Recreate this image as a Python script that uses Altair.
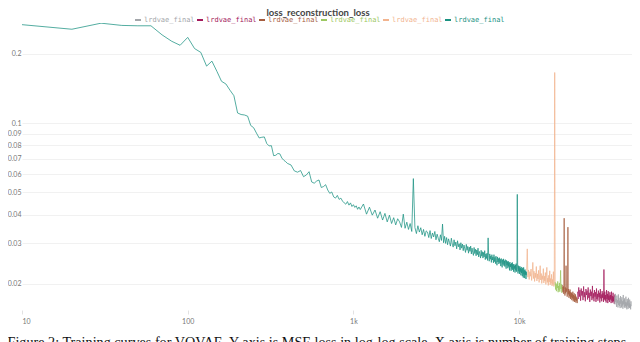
import altair as alt
import pandas as pd

# ---------------- data ----------------
RUN_IDS = ["run_gray", "run_magenta", "run_brown", "run_green", "run_peach", "run_teal"]
RUN_LABEL = "lrdvae_final"
RUN_COLORS = ["#a3a6aa", "#a3195b", "#a65d3f", "#9cc862", "#f2b48f", "#1b9282"]
DRAW_ORDER = ["run_teal", "run_peach", "run_green", "run_brown", "run_magenta", "run_gray"]

TITLE = "loss_reconstruction_loss"
CAPTION = ("Figure 2: Training curves for VQVAE. Y axis is MSE loss in log-log scale. "
           "X axis is number of training steps")

X_TICKS = [10, 100, 1000, 10000]
Y_TICKS = [0.02, 0.03, 0.04, 0.05, 0.06, 0.07, 0.08, 0.09, 0.1, 0.2]

teal_steps = list(range(10, 401, 10)) + list(range(420, 1101, 20)) + list(range(1150, 11101, 50))
teal_loss = [
    # 10 .. 400 every 10
    0.268, 0.256, 0.272, 0.266, 0.265, 0.265, 0.242, 0.227, 0.218, 0.236,
    0.211, 0.203, 0.177, 0.186, 0.168, 0.152, 0.148, 0.139, 0.1316, 0.1107,
    0.109, 0.1085, 0.1072, 0.0977, 0.0955, 0.0905, 0.0862, 0.0868, 0.0871, 0.0815,
    0.0796, 0.0798, 0.0722, 0.0725, 0.0738, 0.0735, 0.0705, 0.0690, 0.0680, 0.0668,
    # 420 .. 1100 every 20
    0.0658, 0.0620, 0.0612, 0.0622, 0.0585, 0.0595, 0.0615, 0.0555, 0.0548, 0.0560,
    0.0566, 0.0525, 0.0530, 0.0540, 0.0512, 0.0495, 0.0502, 0.0478, 0.0472, 0.0485,
    0.0466, 0.0472, 0.0458, 0.0450, 0.0444, 0.0456, 0.0440, 0.0450, 0.0434, 0.0442,
    0.0430, 0.0437, 0.0422, 0.0432, 0.0421,
    # 1150 .. 1500
    0.0445, 0.0402, 0.0431, 0.0398, 0.0419, 0.0386, 0.0412, 0.0379,
    # 1550 .. 2000
    0.0405, 0.0372, 0.0398, 0.0366, 0.0388, 0.0361, 0.0384, 0.0372, 0.0352, 0.0402,
    # 2050 .. 2500
    0.0349, 0.0371, 0.0345, 0.0366, 0.0338, 0.0574, 0.0352, 0.0331, 0.0358, 0.0336,
    # 2550 .. 3000
    0.0351, 0.0327, 0.0345, 0.0322, 0.0340, 0.0336, 0.0318, 0.0341, 0.0315, 0.0333,
    # 3050 .. 3500
    0.0320, 0.0338, 0.0311, 0.0329, 0.0316, 0.0305, 0.0327, 0.0309, 0.0364, 0.0302,
    # 3550 .. 4000
    0.0322, 0.0300, 0.0318, 0.0296, 0.0314, 0.0303, 0.0292, 0.0316, 0.0298, 0.0289,
    # 4050 .. 4500
    0.0311, 0.0293, 0.0304, 0.0284, 0.0308, 0.0290, 0.0299, 0.0281, 0.0302, 0.0286,
    # 4550 .. 5000
    0.0298, 0.0279, 0.0295, 0.0284, 0.0274, 0.0297, 0.0280, 0.0291, 0.0272, 0.0289,
    # 5050 .. 5500
    0.0277, 0.0292, 0.0270, 0.0286, 0.0274, 0.0266, 0.0288, 0.0271, 0.0283, 0.0265,
    # 5550 .. 6000
    0.0281, 0.0268, 0.0286, 0.0262, 0.0277, 0.0270, 0.0259, 0.0280, 0.0264, 0.0276,
    # 6050 .. 6500
    0.0259, 0.0274, 0.0262, 0.0279, 0.0255, 0.0270, 0.0258, 0.0272, 0.0253, 0.0317,
    # 6550 .. 7000
    0.0266, 0.0251, 0.0270, 0.0256, 0.0265, 0.0248, 0.0268, 0.0254, 0.0262, 0.0247,
    # 7050 .. 7500
    0.0268, 0.0250, 0.0261, 0.0245, 0.0264, 0.0252, 0.0241, 0.0262, 0.0249, 0.0258,
    # 7550 .. 8000
    0.0244, 0.0260, 0.0247, 0.0256, 0.0239, 0.0258, 0.0246, 0.0236, 0.0255, 0.0243,
    # 8050 .. 8500
    0.0257, 0.0240, 0.0252, 0.0238, 0.0255, 0.0244, 0.0233, 0.0253, 0.0241, 0.0250,
    # 8550 .. 9000
    0.0234, 0.0251, 0.0238, 0.0247, 0.0229, 0.0249, 0.0237, 0.0244, 0.0228, 0.0246,
    # 9050 .. 9500
    0.0233, 0.0248, 0.0230, 0.0243, 0.0226, 0.0244, 0.0233, 0.0240, 0.0224, 0.0242,
    # 9550 .. 10000
    0.0229, 0.0245, 0.0226, 0.0238, 0.0490, 0.0231, 0.0222, 0.0240, 0.0227, 0.0236,
    # 10050 .. 10500
    0.0221, 0.0239, 0.0226, 0.0234, 0.0218, 0.0237, 0.0223, 0.0232, 0.0216, 0.0235,
    # 10550 .. 11100
    0.0224, 0.0213, 0.0236, 0.0220, 0.0229, 0.0212, 0.0231, 0.0219, 0.0227, 0.0210,
    0.0226, 0.0218,
]

peach_steps = list(range(11100, 16501, 100))
peach_loss = [
    0.0228, 0.0284, 0.0214, 0.0230, 0.0209, 0.0226, 0.0216, 0.0232, 0.0207, 0.0224,
    0.0248, 0.0211, 0.0227, 0.0205, 0.0223, 0.0213, 0.0238, 0.0206, 0.0221, 0.0210,
    0.0229, 0.0203, 0.0219, 0.0240, 0.0208, 0.0222, 0.0201, 0.0217, 0.0209, 0.0233,
    0.0202, 0.0216, 0.0206, 0.0224, 0.0199, 0.0214, 0.0236, 0.0203, 0.0212, 0.0197,
    0.0218, 0.0204, 0.0228, 0.0198, 0.0211, 0.0201, 0.0220, 0.0196, 0.0209, 0.0199,
    0.0226, 0.0195, 0.0205, 0.1660, 0.0198,
]

green_steps = list(range(16500, 18301, 100))
green_loss = [
    0.0204, 0.0189, 0.0201, 0.0186, 0.0199, 0.0192, 0.0205, 0.0184, 0.0196, 0.0188,
    0.0202, 0.0185, 0.0197, 0.0229, 0.0190, 0.0199, 0.0183, 0.0194, 0.0187,
]

brown_steps = list(range(18300, 22501, 100))
brown_loss = [
    0.0198, 0.0184, 0.0195, 0.0181, 0.0386, 0.0189, 0.0178, 0.0193, 0.0182, 0.0240,
    0.0185, 0.0191, 0.0176, 0.0188, 0.0353, 0.0180, 0.0190, 0.0174, 0.0186, 0.0177,
    0.0189, 0.0172, 0.0184, 0.0175, 0.0183, 0.0170, 0.0181, 0.0173, 0.0185, 0.0168,
    0.0179, 0.0171, 0.0182, 0.0167, 0.0177, 0.0170, 0.0180, 0.0166, 0.0176, 0.0169,
    0.0174, 0.0165, 0.0172,
]

magenta_steps = list(range(22500, 37701, 200))
magenta_loss = [
    0.0185, 0.0172, 0.0193, 0.0176, 0.0188, 0.0169, 0.0191, 0.0178, 0.0186, 0.0170,
    0.0195, 0.0175, 0.0184, 0.0168, 0.0190, 0.0179, 0.0187, 0.0171, 0.0193, 0.0174,
    0.0183, 0.0167, 0.0189, 0.0177, 0.0185, 0.0170, 0.0196, 0.0173, 0.0182, 0.0168,
    0.0188, 0.0176, 0.0184, 0.0167, 0.0191, 0.0172, 0.0181, 0.0169, 0.0187, 0.0175,
    0.0183, 0.0166, 0.0190, 0.0173, 0.0180, 0.0168, 0.0186, 0.0174, 0.0182, 0.0167,
    0.0231, 0.0171, 0.0185, 0.0169, 0.0179, 0.0166, 0.0188, 0.0172, 0.0181, 0.0165,
    0.0186, 0.0170, 0.0178, 0.0167, 0.0184, 0.0171, 0.0179, 0.0165, 0.0185, 0.0169,
    0.0177, 0.0166, 0.0183, 0.0168, 0.0176, 0.0164, 0.0180,
]

gray_steps = list(range(37700, 47601, 200))
gray_loss = [
    0.0176, 0.0163, 0.0181, 0.0167, 0.0172, 0.0159, 0.0178, 0.0165, 0.0170, 0.0158,
    0.0180, 0.0162, 0.0174, 0.0160, 0.0169, 0.0157, 0.0177, 0.0164, 0.0171, 0.0158,
    0.0175, 0.0161, 0.0168, 0.0156, 0.0179, 0.0163, 0.0170, 0.0159, 0.0173, 0.0157,
    0.0167, 0.0160, 0.0176, 0.0158, 0.0166, 0.0155, 0.0172, 0.0161, 0.0169, 0.0156,
    0.0174, 0.0159, 0.0165, 0.0157, 0.0171, 0.0158, 0.0163, 0.0155, 0.0168, 0.0160,
]

series = {
    "run_teal": (teal_steps, teal_loss),
    "run_peach": (peach_steps, peach_loss),
    "run_green": (green_steps, green_loss),
    "run_brown": (brown_steps, brown_loss),
    "run_magenta": (magenta_steps, magenta_loss),
    "run_gray": (gray_steps, gray_loss),
}

rows = []
for run, (st, ls) in series.items():
    for s, v in zip(st, ls):
        rows.append({"run": run, "step": s, "loss": v})
df = pd.DataFrame(rows)

legend_df = pd.DataFrame({"run": RUN_IDS, "label": [RUN_LABEL] * len(RUN_IDS)})

# ---------------- chart ----------------
W, H = 610, 287
color_scale = alt.Scale(domain=RUN_IDS, range=RUN_COLORS)

x_enc = alt.X(
    "step:Q",
    scale=alt.Scale(type="log", domain=[10, 48000], nice=False),
    axis=alt.Axis(
        values=X_TICKS,
        labelExpr="datum.value >= 1000 ? (datum.value / 1000) + 'k' : datum.value",
        grid=False, domain=False, ticks=True, tickSize=4, tickColor="#e2e2e2",
        labelFont="Lato", labelFontSize=7, labelColor="#777777", labelPadding=3,
        title=CAPTION, titleFont="Liberation Serif", titleFontSize=14.2,
        titleFontWeight="normal", titleColor="#111111", titleX=-15, titleY=25,
        titleAlign="left", titleBaseline="top", titleAnchor="start",
    ),
)
y_enc = alt.Y(
    "loss:Q",
    scale=alt.Scale(type="log", domain=[0.0154, 0.2725], nice=False),
    axis=alt.Axis(
        values=Y_TICKS, format=".2~f", grid=True, gridColor="#f1f1f1",
        domain=False, ticks=False, labelFont="Lato", labelFontSize=7,
        labelColor="#777777", labelPadding=1, title=None,
    ),
)

line_layers = []
for run in DRAW_ORDER:
    line_layers.append(
        alt.Chart(df[df["run"] == run])
        .mark_line(strokeWidth=1, opacity=0.75, clip=True)
        .encode(x=x_enc, y=y_enc,
                color=alt.Color("run:N", scale=color_scale, legend=None))
    )
lines = alt.layer(*line_layers)

leg_x = alt.X("run:N", scale=alt.Scale(type="point", domain=RUN_IDS, range=[116, 426], padding=0),
              axis=None)
leg_sym = alt.Chart(legend_df).mark_point(shape="stroke", size=36, strokeWidth=2, filled=False,
                                          opacity=1).encode(
    x=leg_x, y=alt.value(-3), color=alt.Color("run:N", scale=color_scale, legend=None))
leg_txt = alt.Chart(legend_df).mark_text(align="left", baseline="middle", dx=6,
                                         font="DejaVu Sans Mono", fontSize=7).encode(
    x=leg_x, y=alt.value(-3), text="label:N",
    color=alt.Color("run:N", scale=color_scale, legend=None))
legend = alt.layer(leg_sym, leg_txt)

chart = (
    alt.layer(lines, legend)
    .resolve_scale(x="independent")
    .properties(
        width=W, height=H,
        title=alt.TitleParams(TITLE, font="Lato", fontSize=9.5, fontWeight="bold",
                              color="#444444", anchor="middle", frame="group", dx=-9,
                              dy=10, offset=1, baseline="alphabetic"),
        padding={"left": 14, "top": 15, "right": 0, "bottom": 32},
        autosize=alt.AutoSizeParams(type="none"),
        background="white",
    )
    .configure_view(stroke=None)
)

chart.save("out.html", embed_options={"renderer": "svg", "actions": False})
